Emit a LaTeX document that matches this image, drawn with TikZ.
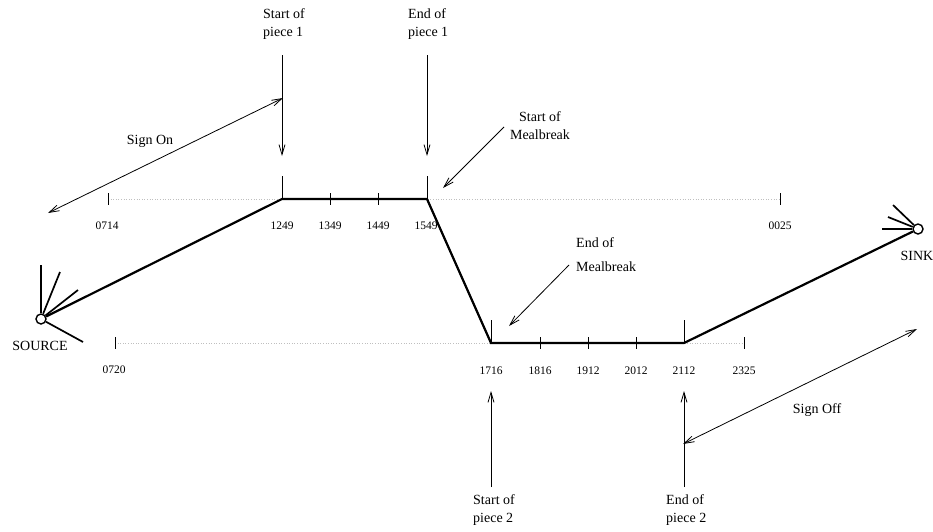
\documentclass[tikz,border=0pt]{standalone}
\usepackage{fontspec}
\setmainfont{Liberation Serif}
\usetikzlibrary{arrows.meta}
\begin{document}
\begin{tikzpicture}[x=1pt,y=-1pt,
  lbl/.style={font=\fontsize{14}{18}\selectfont, inner sep=0pt, align=left},
  num/.style={font=\fontsize{11.5}{14}\selectfont, inner sep=0pt},
  route/.style={line width=2.2pt, line join=miter},
  spoke/.style={line width=1.7pt},
  hub/.style={circle, draw, line width=1.4pt, minimum size=10pt, inner sep=0pt},
  timeline/.style={draw=black!25, line width=0.6pt, dotted},
  tickmark/.style={line width=0.8pt},
  ptr/.style={line width=0.8pt, -{Straight Barb[length=10pt,width=6pt]}},
  dptr/.style={line width=0.8pt, {Straight Barb[length=10pt,width=6pt]}-{Straight Barb[length=10pt,width=6pt]}},
]
\useasboundingbox (0,0) rectangle (933,531);

% ---- time points on the two rows ----
\coordinate (t0714) at (108,199);
\coordinate (t1249) at (282,199);
\coordinate (t1349) at (330,199);
\coordinate (t1449) at (378,199);
\coordinate (t1549) at (427,199);
\coordinate (t0025) at (780,199);
\coordinate (b0720) at (115,343);
\coordinate (b1716) at (491,343);
\coordinate (b1816) at (540,343);
\coordinate (b1912) at (588,343);
\coordinate (b2012) at (636,343);
\coordinate (b2112) at (684,343);
\coordinate (b2325) at (744,343);

% dotted time rows
\draw[timeline] (t0714) -- (t0025);
\draw[timeline] (b0720) -- (b2325);

% small ticks
\foreach \p in {t0714,t1349,t1449,t0025,b0720,b1816,b1912,b2012,b2325}
  \draw[tickmark] (\p) ++(0,-6) -- ++(0,12);
% tall ticks at the piece boundaries
\foreach \p in {t1249,t1549,b1716,b2112}
  \draw[tickmark] (\p) -- ++(0,-23);

% time labels
\node[num] (n0714) at (107,226) {0714};
\node[num] (n1249) at (282,226) {1249};
\node[num] (n1349) at (330,226) {1349};
\node[num] (n1449) at (378,226) {1449};
\node[num] (n1549) at (426,226) {1549};
\node[num] (n0025) at (780,226) {0025};
\node[num] (n0720) at (114,370) {0720};
\node[num] (n1716) at (491,371) {1716};
\node[num] (n1816) at (540,371) {1816};
\node[num] (n1912) at (588,371) {1912};
\node[num] (n2012) at (636,371) {2012};
\node[num] (n2112) at (684,371) {2112};
\node[num] (n2325) at (744,371) {2325};

% ---- source and sink ----
\node[hub] (src) at (41,319) {};
\node[hub] (snk) at (918,229) {};
\node[lbl] (srclbl) at (40,346) {SOURCE};
\node[lbl] (snklbl) at (917,256) {SINK};

\coordinate (s1) at (41,265);
\coordinate (s2) at (60,272);
\coordinate (s3) at (78,290);
\coordinate (s4) at (83,342);
\foreach \c in {s1,s2,s3,s4} \draw[spoke] (src) -- (\c);

\coordinate (k1) at (893,205);
\coordinate (k2) at (888,217);
\coordinate (k3) at (882,229);
\foreach \c in {k1,k2,k3} \draw[spoke] (snk) -- (\c);

% ---- the duty route ----
\draw[route] (src) -- (t1249) -- (t1549) -- (b1716) -- (b2112) -- (snk);

% ---- annotations ----
\node[lbl, anchor=west] (sp1) at (263,24) {Start of\\piece 1};
\node[lbl, anchor=west] (ep1) at (408,24) {End of\\piece 1};
\coordinate (sp1a) at (282,55);
\coordinate (sp1b) at (282,156);
\coordinate (ep1a) at (427,55);
\coordinate (ep1b) at (427,156);
\draw[ptr] (sp1a) -- (sp1b);
\draw[ptr] (ep1a) -- (ep1b);

\node[lbl, align=center] (smb) at (540,126) {Start of\\Mealbreak};
\coordinate (smba) at (504,127);
\coordinate (smbb) at (443,188);
\draw[ptr] (smba) -- (smbb);

\node[lbl, anchor=west] (emb1) at (576,243) {End of};
\node[lbl, anchor=west] (emb2) at (576,267) {Mealbreak};
\coordinate (emba) at (569,265);
\coordinate (embb) at (509,326);
\draw[ptr] (emba) -- (embb);

\node[lbl, anchor=west] (sp2) at (473,510) {Start of\\piece 2};
\node[lbl, anchor=west] (ep2) at (666,510) {End of\\piece 2};
\coordinate (sp2a) at (491,487);
\coordinate (sp2b) at (491,391);
\coordinate (ep2a) at (684,487);
\coordinate (ep2b) at (684,391);
\draw[ptr] (sp2a) -- (sp2b);
\draw[ptr] (ep2a) -- (ep2b);

\node[lbl] (son) at (150,141) {Sign On};
\coordinate (sona) at (48,213);
\coordinate (sonb) at (283,98);
\draw[dptr] (sona) -- (sonb);

\node[lbl] (soff) at (817,410) {Sign Off};
\coordinate (soffa) at (917,329);
\coordinate (soffb) at (683,444);
\draw[dptr] (soffa) -- (soffb);
\end{tikzpicture}
\end{document}
